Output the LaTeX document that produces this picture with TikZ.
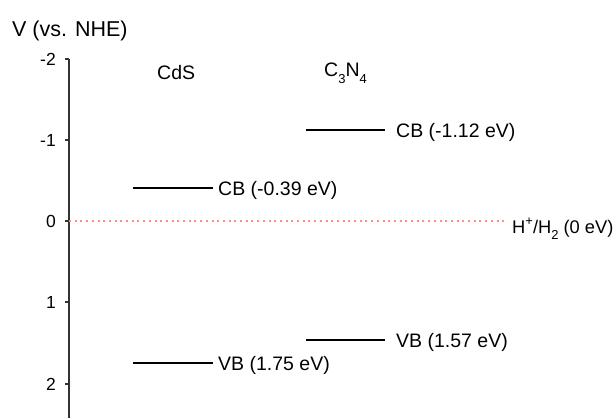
\documentclass[tikz,border=0pt]{standalone}
\usepackage{fontspec}
\setmainfont{Liberation Sans}
\newcommand{\mysubs}[1]{\raisebox{-0.36em}{\fontsize{13}{13}\selectfont #1}}
\newcommand{\mysups}[1]{\raisebox{0.42em}{\fontsize{13}{13}\selectfont #1}}
\begin{document}
\begin{tikzpicture}[x=1pt,y=-1pt,
  lbl/.style={font=\fontsize{19.5}{22}\selectfont, inner sep=0pt},
  ticklbl/.style={font=\fontsize{17.5}{20}\selectfont, inner sep=0pt},
  ttl/.style={font=\fontsize{21.5}{24}\selectfont, inner sep=0pt},
  level/.style={line width=2.2pt, black},
  axisline/.style={line width=1.3pt, black!80},
  refline/.style={line width=1.3pt, red!45, dash pattern=on 2pt off 3.7pt}]
\useasboundingbox (0,0) rectangle (616,418);
% axis
\coordinate (axtop) at (69,59);
\coordinate (axbot) at (69,418);
\draw[axisline] (axtop) -- (axbot);
\foreach \v/\y in {-2/59,-1/140,0/221,1/302,2/384}{
  \coordinate (t\y) at (69,\y);
  \draw[axisline] (t\y) -- ++(-4,0);
  \node[ticklbl, anchor=base east] (tl\y) at (56,\y+6) {\v};
}
\node[ttl, anchor=base west] (title) at (12,36) {V (vs. NHE)};
\node[lbl, anchor=base west] (cds) at (157,79) {CdS};
\node[lbl, anchor=base west] (cn) at (324,76) {C\mysubs{3}N\mysubs{4}};
% reference line
\coordinate (refL) at (69,221);
\coordinate (refR) at (505,221);
\draw[refline] (refL) -- (refR);
\node[lbl, font=\fontsize{18.3}{21}\selectfont, anchor=base west] (refl) at (512,233) {H\mysups{+}/H\mysubs{2} (0 eV)};
% CdS levels
\coordinate (cdscbL) at (133,188);
\coordinate (cdscbR) at (213,188);
\draw[level] (cdscbL) -- (cdscbR);
\node[lbl, anchor=base west] (cdscb) at (218,195) {CB (-0.39 eV)};
\coordinate (cdsvbL) at (133,363);
\coordinate (cdsvbR) at (213,363);
\draw[level] (cdsvbL) -- (cdsvbR);
\node[lbl, anchor=base west] (cdsvb) at (218,370) {VB (1.75 eV)};
% C3N4 levels
\coordinate (cncbL) at (306,130);
\coordinate (cncbR) at (385,130);
\draw[level] (cncbL) -- (cncbR);
\node[lbl, anchor=base west] (cncb) at (396,137) {CB (-1.12 eV)};
\coordinate (cnvbL) at (306,340);
\coordinate (cnvbR) at (385,340);
\draw[level] (cnvbL) -- (cnvbR);
\node[lbl, anchor=base west] (cnvb) at (396,347) {VB (1.57 eV)};
\end{tikzpicture}
\end{document}
